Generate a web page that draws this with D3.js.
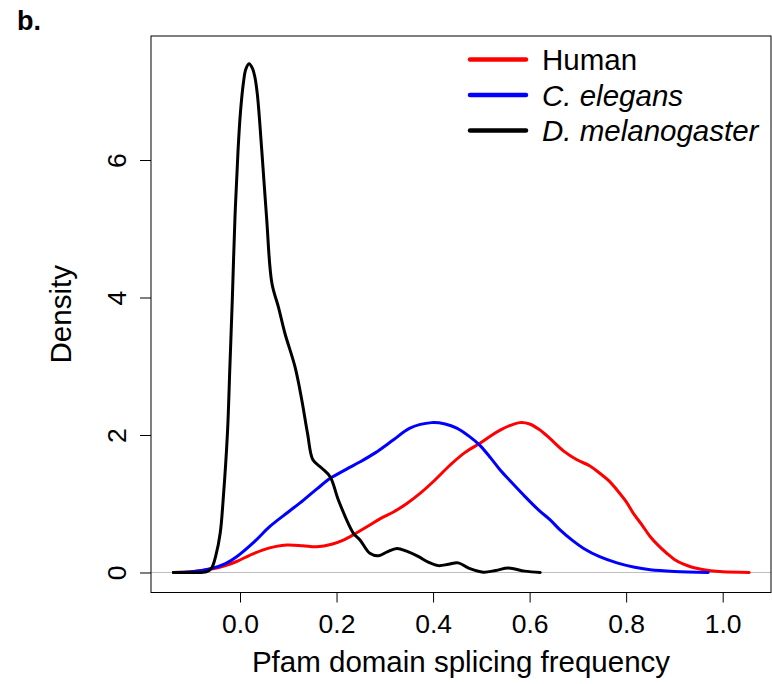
<!DOCTYPE html>
<html>
<head>
<meta charset="utf-8">
<script src="https://cdn.jsdelivr.net/npm/d3@7"></script>
<style>
  html, body { margin: 0; padding: 0; background: #fff; }
  svg text { font-family: "Liberation Sans", Arial, Helvetica, sans-serif; fill: #000; }
</style>
</head>
<body>
<svg id="chart" width="772" height="684"></svg>
<script>
// Kernel density estimates of Pfam domain splicing frequency, per species: [x, density]
const human = [
  [-0.138, 0], [-0.10, 0.01], [-0.059, 0.05], [-0.03, 0.10], [-0.007, 0.16], [0.02, 0.25],
  [0.048, 0.33], [0.075, 0.38], [0.097, 0.40], [0.13, 0.39], [0.159, 0.375], [0.19, 0.41],
  [0.214, 0.47], [0.24, 0.57], [0.269, 0.69], [0.29, 0.78], [0.318, 0.88], [0.345, 1.0],
  [0.373, 1.15], [0.40, 1.32], [0.435, 1.56], [0.465, 1.74], [0.497, 1.88], [0.52, 1.99],
  [0.539, 2.07], [0.56, 2.14], [0.58, 2.18], [0.60, 2.16], [0.62, 2.08], [0.642, 1.95],
  [0.67, 1.77], [0.698, 1.64], [0.725, 1.55], [0.746, 1.44], [0.765, 1.33], [0.781, 1.20],
  [0.80, 1.03], [0.815, 0.86], [0.833, 0.69], [0.85, 0.52], [0.867, 0.39], [0.884, 0.28],
  [0.90, 0.19], [0.919, 0.12], [0.935, 0.08], [0.953, 0.05], [0.975, 0.025], [1.0, 0.01],
  [1.055, 0]
];
const elegans = [
  [-0.138, 0], [-0.10, 0.01], [-0.059, 0.06], [-0.03, 0.13], [-0.007, 0.23], [0.03, 0.45],
  [0.062, 0.67], [0.10, 0.88], [0.131, 1.05], [0.16, 1.22], [0.187, 1.37], [0.22, 1.50],
  [0.249, 1.61], [0.28, 1.74], [0.318, 1.93], [0.352, 2.10], [0.397, 2.18], [0.425, 2.16],
  [0.449, 2.10], [0.475, 1.98], [0.497, 1.85], [0.52, 1.66], [0.539, 1.49], [0.56, 1.33],
  [0.587, 1.13], [0.62, 0.90], [0.642, 0.77], [0.663, 0.62], [0.69, 0.46], [0.712, 0.35],
  [0.745, 0.23], [0.781, 0.14], [0.815, 0.08], [0.85, 0.04], [0.90, 0.015], [0.97, 0]
];
const melanogaster = [
  [-0.138, 0], [-0.10, 0], [-0.07, 0.01], [-0.059, 0.065], [-0.05, 0.25], [-0.041, 0.575],
  [-0.035, 1.05], [-0.026, 2.03], [-0.021, 2.99], [-0.016, 3.96], [-0.0104, 5.17],
  [-0.004, 6.15], [0.001, 6.70], [0.007, 7.12], [0.012, 7.32], [0.0187, 7.40], [0.026, 7.33],
  [0.031, 7.20], [0.036, 6.95], [0.045, 6.15], [0.055, 5.17],
  [0.066, 4.21], [0.080, 3.85], [0.093, 3.48], [0.114, 2.99], [0.128, 2.51], [0.140, 2.02],
  [0.151, 1.64], [0.169, 1.52], [0.187, 1.39], [0.204, 1.05], [0.235, 0.57], [0.249, 0.47],
  [0.269, 0.28], [0.287, 0.245], [0.305, 0.30], [0.325, 0.35], [0.345, 0.31], [0.37, 0.23],
  [0.39, 0.15], [0.411, 0.10], [0.432, 0.12], [0.452, 0.14], [0.475, 0.06], [0.504, 0.005],
  [0.53, 0.03], [0.556, 0.065], [0.59, 0.02], [0.622, 0]
];

const seriesNames = ["Human", "C. elegans", "D. melanogaster"];
const seriesColors = ["#ff0000", "#0000ff", "#000000"];
const seriesItalic = [false, true, true];
const seriesData = [human, elegans, melanogaster];

const xTicks = [0.0, 0.2, 0.4, 0.6, 0.8, 1.0];
const yTicks = [0, 2, 4, 6];

const svg = d3.select("#chart");
const box = { left: 151, right: 771, top: 36, bottom: 592.5 };

const x = d3.scaleLinear().domain([-0.1844, 1.1001]).range([box.left, box.right]);
const y = d3.scaleLinear().domain([-0.291, 7.804]).range([box.bottom, box.top]);

// zero reference line
svg.append("line")
  .attr("x1", box.left).attr("x2", box.right)
  .attr("y1", y(0)).attr("y2", y(0))
  .attr("stroke", "#bebebe").attr("stroke-width", 1);

// density curves
const line = d3.line()
  .x(d => x(d[0])).y(d => y(d[1]))
  .curve(d3.curveCatmullRom.alpha(0.5));

seriesData.forEach((data, i) => {
  svg.append("path")
    .datum(data)
    .attr("d", line)
    .attr("fill", "none")
    .attr("stroke", seriesColors[i])
    .attr("stroke-width", 3)
    .attr("stroke-linejoin", "round")
    .attr("stroke-linecap", "round");
});

// plot frame
svg.append("rect")
  .attr("x", box.left).attr("y", box.top)
  .attr("width", box.right - box.left).attr("height", box.bottom - box.top)
  .attr("fill", "none").attr("stroke", "#000").attr("stroke-width", 1);

// x axis
const gx = svg.append("g")
  .attr("transform", `translate(0,${box.bottom})`)
  .call(d3.axisBottom(x).tickValues(xTicks).tickFormat(d3.format(".1f")).tickSize(10));
gx.select(".domain").remove();
gx.selectAll(".tick line").attr("stroke", "#000");
gx.selectAll(".tick text")
  .attr("y", 40).attr("dy", null)
  .style("font-size", "26.5px");

// y axis
const gy = svg.append("g")
  .attr("transform", `translate(${box.left},0)`)
  .call(d3.axisLeft(y).tickValues(yTicks).tickFormat(d3.format("d")).tickSize(11));
gy.select(".domain").remove();
gy.selectAll(".tick line").attr("stroke", "#000");
gy.selectAll(".tick text")
  .attr("x", null).attr("dy", null)
  .attr("text-anchor", "middle")
  .attr("transform", "translate(-25,0) rotate(-90)")
  .style("font-size", "26.5px");
svg.selectAll(".tick text").attr("font-family", null).attr("font-size", null);

// axis titles, centred on the plot frame
svg.append("text")
  .attr("x", (box.left + box.right) / 2).attr("y", 672)
  .attr("text-anchor", "middle")
  .style("font-size", "29.5px")
  .text("Pfam domain splicing frequency");

svg.append("text")
  .attr("transform", `translate(71,${(box.top + box.bottom) / 2}) rotate(-90)`)
  .attr("text-anchor", "middle")
  .style("font-size", "29.5px")
  .text("Density");

// panel letter
svg.append("text")
  .attr("x", 17).attr("y", 30)
  .style("font-size", "27px").style("font-weight", "bold")
  .text("b.");

// legend
const legend = svg.append("g");
seriesNames.forEach((name, i) => {
  const ly = 59.5 + i * 35.5;
  legend.append("line")
    .attr("x1", 470).attr("x2", 526)
    .attr("y1", ly).attr("y2", ly)
    .attr("stroke", seriesColors[i]).attr("stroke-width", 4.5)
    .attr("stroke-linecap", "round");
  legend.append("text")
    .attr("x", 542).attr("y", ly + 10.5)
    .style("font-size", "29.5px")
    .style("font-style", seriesItalic[i] ? "italic" : "normal")
    .text(name);
});
</script>
</body>
</html>
